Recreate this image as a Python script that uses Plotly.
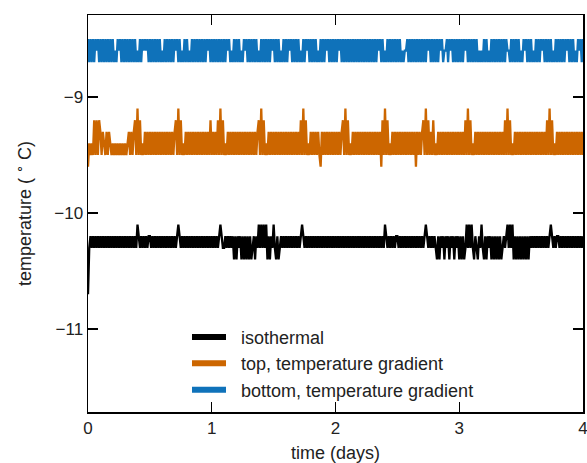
import numpy as np
import plotly.graph_objects as go

# ---------------- data ----------------
# Sampling interval of the logged temperature (days)
DT = 0.01

# Quantised temperature levels (deg C) that each series visits
ISO_LEVELS = [-10.1, -10.2, -10.3, -10.4, -10.7]
TOP_LEVELS = [-9.1, -9.2, -9.3, -9.4, -9.5, -9.6]
BOT_LEVELS = [-8.5, -8.6, -8.7]

# Per-sample level index (one character per sample, 10 samples per block)
ISO_CODES = (
    "4212121212" "1212121212" "1212121212" "1212121212" "0121212121"
    "1212121212" "1212121212" "1210121212" "1212121212" "1212121212"
    "1212121012" "2121212131" "3121313131" "3132131202" "0202031312"
    "0231321212" "1212121212" "1210121212" "1212121212" "1212121212"
    "1212121212" "1212121212" "1212121212" "1212121212" "0121212121"
    "1212121212" "1212121212" "1210121212" "1231312131" "2131213121"
    "3131320202" "0231231202" "3131213131" "3131321210" "2020313131"
    "3131313121" "2121212121" "2121012121" "1212121212" "1212121212"
    "1"
)
TOP_CODES = (
    "5343414141" "2423424234" "3434343434" "3432424214" "0414342424"
    "2424242424" "2424242424" "2140414342" "4242424242" "4242424241"
    "4242414041" "4342424242" "4242424242" "4242424214" "0414342424"
    "2424242424" "2424242424" "2414041434" "2424242452" "4242424242"
    "4242421404" "1434242424" "2424242424" "2424242514" "0414342424"
    "2424242424" "2424252424" "2140414241" "4342424242" "4242424242"
    "4242414041" "4342424242" "4242424242" "4242424140" "4143424242"
    "4242424242" "4242424242" "4140414342" "4242424242" "4242424242"
    "4"
)
BOT_CODES = (
    "0202020102" "0202020202" "0212010202" "0202020202" "1202010102"
    "0202020202" "1202020202" "0102021202" "0212020202" "0202020102"
    "0202020202" "0201021202" "0202120102" "0202020212" "0202020201"
    "0202021202" "0201020202" "0212020102" "0202021202" "0201020202"
    "0201020202" "0202020202" "0202020202" "0202010202" "1202020202"
    "0202121102" "0202020202" "0202010202" "0202010211" "0201020202"
    "0202010202" "0202021212" "0202120202" "0202020201" "1202020202"
    "1201020202" "1202020102" "0202021202" "0202020102" "0202120102"
    "0"
)

SERIES_NAMES = ["isothermal", "top, temperature gradient", "bottom, temperature gradient"]
SERIES_COLORS = ["#000000", "#cc6600", "#0f72ba"]

X_TICKS = [0, 1, 2, 3, 4]
Y_TICKS = [-11, -10, -9]
X_TITLE = "time (days)"
Y_TITLE = "temperature ( <sup>∘</sup> C)"


def decode(codes, levels):
    vals = [levels[int(c)] for c in codes]
    t = np.arange(len(vals)) * DT
    return t, vals


FONT = "Liberation Sans, Arial, sans-serif"
fig = go.Figure()

series = [(ISO_CODES, ISO_LEVELS), (TOP_CODES, TOP_LEVELS), (BOT_CODES, BOT_LEVELS)]
for (codes, levels), name, color in zip(series, SERIES_NAMES, SERIES_COLORS):
    t, v = decode(codes, levels)
    fig.add_trace(go.Scatter(x=t, y=v, mode="lines", name=name, showlegend=False,
                             line=dict(color=color, width=2.3, simplify=False),
                             hoverinfo="skip"))

# legend entries (thick swatches)
for name, color in zip(SERIES_NAMES, SERIES_COLORS):
    fig.add_trace(go.Scatter(x=[None], y=[None], mode="lines",
                             name="\u00a0\u00a0" + name,
                             line=dict(color=color, width=6)))

axis_common = dict(
    showline=True, linecolor="black", linewidth=1.5, mirror="ticks",
    ticks="inside", ticklen=10, tickwidth=1.2, tickcolor="black",
    showgrid=False, zeroline=False, automargin=False,
    ticklabeloverflow="allow",
    tickfont=dict(family=FONT, size=17, color="#222"),
    title_font=dict(family=FONT, size=18, color="#222"),
)

fig.update_xaxes(range=[0, 4], tickvals=X_TICKS, title_text=X_TITLE, title_standoff=9, **axis_common)
fig.update_yaxes(range=[-11.715, -8.293], tickvals=Y_TICKS, title_text=Y_TITLE, title_standoff=18, **axis_common)

fig.update_layout(
    width=587, height=463,
    margin=dict(l=88, r=4, t=15, b=51, autoexpand=False),
    paper_bgcolor="white", plot_bgcolor="white",
    font=dict(family=FONT, size=18, color="#222"),
    showlegend=True,
    legend=dict(x=0.2, y=0.235, xanchor="left", yanchor="top",
                bgcolor="rgba(0,0,0,0)", borderwidth=0,
                font=dict(family=FONT, size=18, color="#222"),
                tracegroupgap=0, itemwidth=34),
    hovermode=False,
)

fig.write_html("out.html", config={"displayModeBar": False, "staticPlot": True},
               post_script="document.body.style.margin='0';")
